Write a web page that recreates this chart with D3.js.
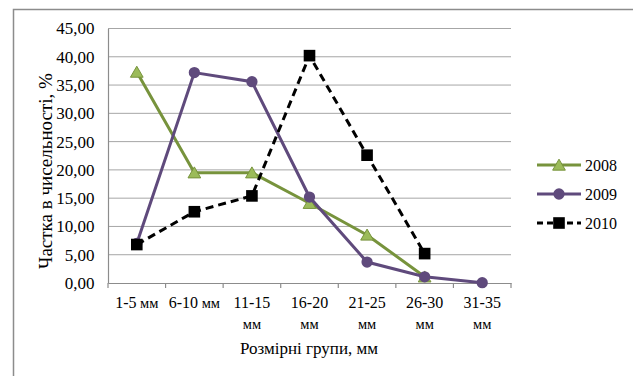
<!DOCTYPE html>
<html>
<head>
<meta charset="utf-8">
<script src="https://cdn.jsdelivr.net/npm/d3@7"></script>
<style>
  html, body { margin: 0; padding: 0; background: #fff; }
</style>
</head>
<body>
<svg id="chart" width="633" height="376"></svg>
<script>
// Size groups (two-line labels) and the share of each group per year, %
const groups = ["1-5 мм", "6-10 мм", "11-15|мм", "16-20|мм", "21-25|мм", "26-30|мм", "31-35|мм"];
const years = ["2008", "2009", "2010"];
const share2008 = [37.3, 19.5, 19.5, 14.1, 8.5, 1.1, null];
const share2009 = [7.0, 37.2, 35.6, 15.2, 3.7, 1.1, 0.05];
const share2010 = [6.8, 12.6, 15.4, 40.2, 22.6, 5.2, null];
const yTicks = [0, 5, 10, 15, 20, 25, 30, 35, 40, 45];

const FONT = "'Liberation Serif'";
const svg = d3.select("#chart");
const plotLeft = 108, plotRight = 511, plotTop = 28.5, plotBottom = 283;

// outer frame
svg.append("path")
  .attr("d", "M13.5,376 V9.5 H633")
  .attr("fill", "none").attr("stroke", "#8c8c8c").attr("stroke-width", 1.5);

const x = d3.scaleBand().domain(groups).range([plotLeft, plotRight]).padding(0);
const y = d3.scaleLinear().domain([0, 45]).range([plotBottom, plotTop]);
const fmt = v => d3.format(".2f")(v).replace(".", ",");

// horizontal gridlines
svg.append("g").selectAll("line").data(yTicks.slice(1)).join("line")
  .attr("x1", plotLeft).attr("x2", plotRight)
  .attr("y1", d => y(d)).attr("y2", d => y(d))
  .attr("stroke", "#a6a6a6").attr("stroke-width", 1);

// y axis
const yAxis = svg.append("g").attr("class", "yaxis").attr("transform", `translate(${plotLeft},0)`)
  .call(d3.axisLeft(y).tickValues(yTicks).tickFormat(fmt).tickSize(0).tickPadding(13.5));
yAxis.attr("font-family", null).attr("font-size", null);
yAxis.select(".domain").attr("stroke", "#8c8c8c").attr("stroke-width", 1.2);

// x axis
const xAxis = svg.append("g").attr("transform", `translate(0,${plotBottom})`)
  .call(d3.axisBottom(x).tickSize(0).tickFormat(""));
xAxis.attr("font-family", null).attr("font-size", null);
xAxis.select(".domain").attr("stroke", "#8c8c8c").attr("stroke-width", 1.2);
svg.append("g").selectAll("line").data(d3.range(groups.length + 1)).join("line")
  .attr("x1", i => plotLeft + i * x.bandwidth()).attr("x2", i => plotLeft + i * x.bandwidth())
  .attr("y1", plotBottom).attr("y2", plotBottom + 5)
  .attr("stroke", "#8c8c8c").attr("stroke-width", 1.2);

// category labels: number range on the first line, unit below where it wraps
const labels = svg.append("g").selectAll("text").data(groups).join("text")
  .attr("text-anchor", "middle");
labels.each(function(d) {
  const parts = d.split("|");
  const t = d3.select(this);
  const mid = x(d) + x.bandwidth() / 2;
  const first = parts[0].split(" ");
  const row1 = t.append("tspan").attr("x", mid).attr("y", 308).text(first[0]);
  if (first[1]) row1.append("tspan").attr("class", "unit").text(" " + first[1]);
  if (parts[1]) {
    t.append("tspan").attr("class", "unit").attr("x", mid).attr("y", 329).text(parts[1]);
  }
});

// axis titles
svg.append("text").attr("class", "title").attr("x", 309).attr("y", 354)
  .attr("text-anchor", "middle").text("Розмірні групи, мм");
svg.append("text").attr("class", "title ytitle")
  .attr("transform", `translate(52,171) rotate(-90)`)
  .attr("text-anchor", "middle").text("Частка в чисельності, %");

// series
const series = [
  { name: years[0], values: share2008, stroke: "#77933c", fill: "#9bbb59", dash: null, marker: "triangle" },
  { name: years[1], values: share2009, stroke: "#5f4a7c", fill: "#5f4a7c", dash: null, marker: "circle" },
  { name: years[2], values: share2010, stroke: "#000000", fill: "#000000", dash: "8,5", marker: "square" }
];
const cx = i => x(groups[i]) + x.bandwidth() / 2;
const markerPath = {
  triangle: d3.symbol(d3.symbolTriangle, 70)(),
  circle: d3.symbol(d3.symbolCircle, 100)(),
  square: d3.symbol(d3.symbolSquare, 135)()
};
const line = d3.line().defined(d => d.v !== null).x(d => cx(d.i)).y(d => y(d.v));

series.forEach(s => {
  const pts = s.values.map((v, i) => ({ v, i }));
  const g = svg.append("g");
  g.append("path").attr("d", line(pts)).attr("fill", "none")
    .attr("stroke", s.stroke).attr("stroke-width", 3)
    .attr("stroke-dasharray", s.dash);
  g.selectAll("path.m").data(pts.filter(p => p.v !== null)).join("path").attr("class", "m")
    .attr("d", markerPath[s.marker])
    .attr("transform", p => `translate(${cx(p.i)},${y(p.v) + (s.marker === "triangle" ? 1.5 : 0)})`)
    .attr("fill", s.fill)
    .attr("stroke", s.marker === "triangle" ? "#77933c" : "none").attr("stroke-width", 1);
});

// legend
const lg = svg.append("g");
series.forEach((s, k) => {
  const ly = 165 + k * 29;
  lg.append("line").attr("x1", 537).attr("x2", 581).attr("y1", ly).attr("y2", ly)
    .attr("stroke", s.stroke).attr("stroke-width", 3).attr("stroke-dasharray", s.dash ? "6,4" : null);
  lg.append("path").attr("d", markerPath[s.marker])
    .attr("transform", `translate(559,${ly + (s.marker === "triangle" ? 1.5 : 0)})`)
    .attr("fill", s.fill)
    .attr("stroke", s.marker === "triangle" ? "#77933c" : "none");
  lg.append("text").attr("x", 585).attr("y", ly + 5.5).text(s.name);
});

// typography applied as inline style so it wins over axis defaults
svg.selectAll("text")
  .style("font-family", FONT)
  .style("font-size", "16px")
  .style("fill", "#000");
svg.selectAll(".yaxis text").style("font-size", "17px");
svg.selectAll("tspan.unit").style("font-size", "14.5px");
svg.selectAll("text.title").style("font-size", "17px");
svg.selectAll("text.ytitle").style("font-size", "19px");
</script>
</body>
</html>
